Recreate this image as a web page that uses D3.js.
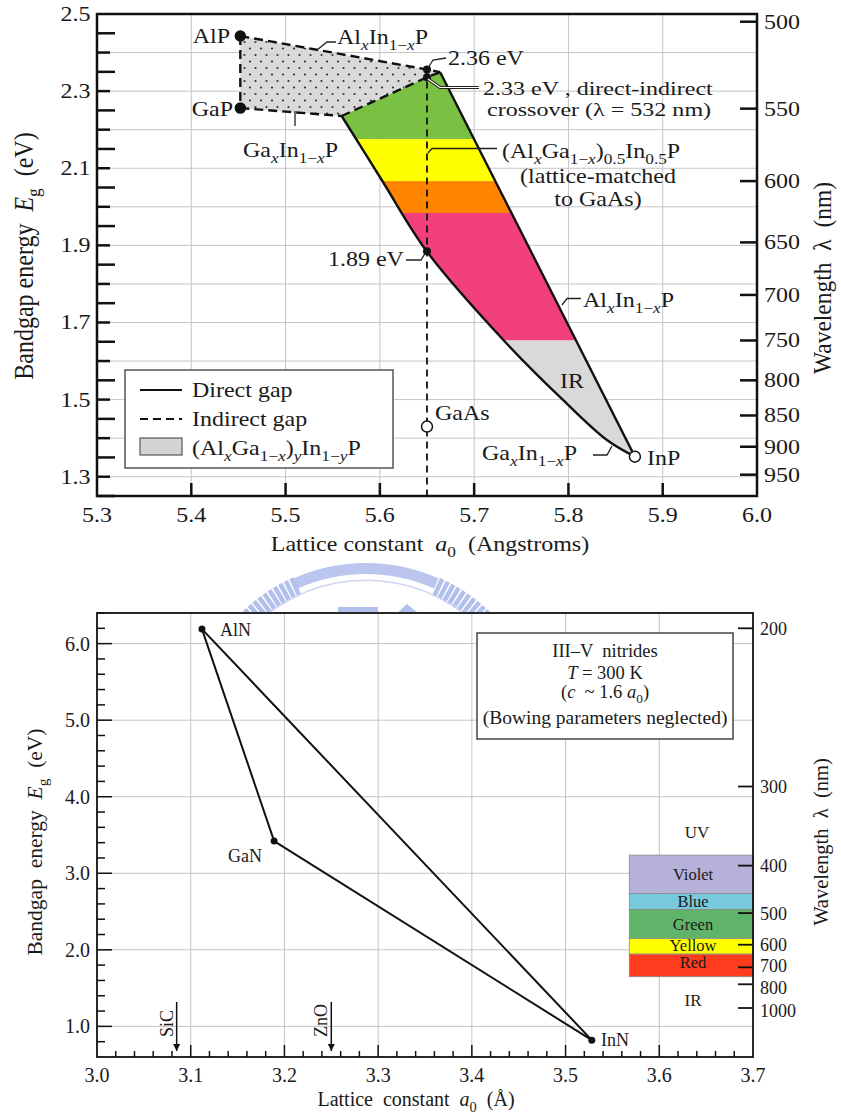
<!DOCTYPE html>
<html>
<head>
<meta charset="utf-8">
<script src="https://cdn.jsdelivr.net/npm/d3@7"></script>
<style>
	body { margin: 0; background: #fff; }
	svg { display: block; }
	text { font-family: "Liberation Serif", "Times New Roman", serif; fill: #1a1a1a; white-space: pre; }
</style>
</head>
<body>
<script>
// ---- top chart: (AlGa)InP ----
var top_lattice_ticks = [5.3, 5.4, 5.5, 5.6, 5.7, 5.8, 5.9, 6.0];
var top_energy_labels = [1.3, 1.5, 1.7, 1.9, 2.1, 2.3, 2.5];
var top_wavelength_ticks = [500, 550, 600, 650, 700, 750, 800, 850, 900, 950];

var phosphides = [
	{name: "AlP", a: 5.452, eg: 2.443, open: false},
	{name: "GaP", a: 5.452, eg: 2.256, open: false},
	{name: "InP", a: 5.8705, eg: 1.352, open: true},
	{name: "GaAs", a: 5.65, eg: 1.43, open: true}
];
var gaas_points = [[5.65, 2.356], [5.65, 2.336], [5.65, 1.885]];
var alinp_indirect = [[5.452, 2.443], [5.65, 2.356], [5.664, 2.349]];
var gainp_indirect = [[5.452, 2.256], [5.5595, 2.2355]];
var crossover_edge = [[5.5595, 2.2355], [5.65, 2.336], [5.664, 2.349]];
var alinp_direct = [[5.664, 2.349], [5.8705, 1.352]];
var gainp_direct = [[5.5595, 2.2355], [5.602, 2.0695], [5.6496, 1.885], [5.731, 1.6546], [5.7942, 1.499], [5.8408, 1.3952], [5.8705, 1.352]];
var band_edges_nm = [500, 570, 600, 625, 750, 1000];
var band_colors = ["#7ac143", "#ffff00", "#ff8400", "#f2407c", "#d9d9d9"];

// ---- bottom chart: nitrides ----
var bot_lattice_ticks = [3.0, 3.1, 3.2, 3.3, 3.4, 3.5, 3.6, 3.7];
var bot_energy_ticks = [1.0, 2.0, 3.0, 4.0, 5.0, 6.0];
var bot_wavelength_ticks = [200, 300, 400, 500, 600, 700, 800, 1000];
var nitrides = [
	{name: "AlN", a: 3.112, eg: 6.19},
	{name: "GaN", a: 3.189, eg: 3.42},
	{name: "InN", a: 3.528, eg: 0.82}
];
var nitride_links = [["AlN", "GaN"], ["GaN", "InN"], ["AlN", "InN"]];
var substrates = [{name: "SiC", a: 3.085}, {name: "ZnO", a: 3.25}];
var spectrum_names = ["Violet", "Blue", "Green", "Yellow", "Red"];
var spectrum_edges_nm = [383, 453, 491, 577, 638, 752];
var spectrum_colors = ["#b6b1d9", "#78c9dc", "#60b46a", "#ffff00", "#ff3c1e"];
var spectrum_left = 3.568;

var W = 841, H = 1115;
var svg = d3.select("body").append("svg").attr("width", W).attr("height", H);
var defs = svg.append("defs");

// text with italic / subscript pieces; sx stretches glyphs sideways
function rich(g, x, y, parts, o) {
	o = o || {};
	var fs = o.fs || 20, sx = o.sx || 1;
	var tr = "translate(" + x + "," + y + ")";
	if (o.rot) tr += " rotate(" + o.rot + ") scale(1," + sx + ")";
	else tr += " scale(" + sx + ",1)";
	var t = g.append("text").attr("transform", tr)
		.attr("xml:space", "preserve")
		.attr("text-anchor", o.anchor || "start")
		.attr("font-size", fs);
	var shift = 0;
	(typeof parts == "string" ? [[parts]] : parts).forEach(function(p) {
		var st = p[1] || "";
		var sub = st.indexOf("s") >= 0;
		var target = sub ? fs * 0.28 : 0;
		var ts = t.append("tspan").text(p[0]);
		if (target - shift) ts.attr("dy", target - shift);
		shift = target;
		if (sub) ts.attr("font-size", fs * 0.72);
		if (st.indexOf("i") >= 0) ts.attr("font-style", "italic");
	});
	return t;
}

function leader(g, pts, white) {
	var p = "M" + pts.map(function(d) { return d.join(","); }).join("L");
	if (white) {
		g.append("path").attr("d", p).attr("fill", "none").attr("stroke", "#222").attr("stroke-width", 3.2);
		g.append("path").attr("d", p).attr("fill", "none").attr("stroke", "#fff").attr("stroke-width", 1.2);
	} else {
		g.append("path").attr("d", p).attr("fill", "none").attr("stroke", "#222").attr("stroke-width", 1.3);
	}
}

// ---------------- watermark ----------------
defs.append("clipPath").attr("id", "wmclip").append("rect").attr("x", 0).attr("y", 540).attr("width", W).attr("height", 72);
var wm = svg.append("g").attr("clip-path", "url(#wmclip)").attr("opacity", 0.8);
var wcx = 366, wcy = 741;
wm.append("path").attr("transform", "translate(" + wcx + "," + wcy + ")")
	.attr("d", d3.arc()({innerRadius: 167, outerRadius: 178, startAngle: -0.42, endAngle: 0.42}))
	.attr("fill", "#a9b8ea");
wm.selectAll("line.bar").data(d3.range(-0.78, -0.42, 0.035).concat(d3.range(0.44, 0.8, 0.035))).join("line")
	.attr("x1", function(d) { return wcx + 160 * Math.sin(d); })
	.attr("y1", function(d) { return wcy - 160 * Math.cos(d); })
	.attr("x2", function(d) { return wcx + 179 * Math.sin(d); })
	.attr("y2", function(d) { return wcy - 179 * Math.cos(d); })
	.attr("stroke", "#a0b1e8").attr("stroke-width", 4.5);
wm.append("path").attr("transform", "translate(" + wcx + "," + wcy + ")")
	.attr("d", d3.arc()({innerRadius: 160, outerRadius: 161.5, startAngle: -0.75, endAngle: 0.75}))
	.attr("fill", "#c3cdf0");
wm.append("rect").attr("x", 338).attr("y", 607).attr("width", 40).attr("height", 7).attr("fill", "#a0b1e8");
wm.append("path").attr("d", "M397,613L407,604L418,613Z").attr("fill", "#a0b1e8");

// ---------------- top chart ----------------
var T = {l: 97, r: 757, t: 14, b: 496};
var xT = d3.scaleLinear().domain([5.3, 6.0]).range([T.l, T.r]);
var yT = d3.scaleLinear().domain([1.25, 2.5]).range([T.b, T.t]);
var gt = svg.append("g");
var SX = 1.2;

gt.append("rect").attr("x", T.l).attr("y", T.t).attr("width", T.r - T.l).attr("height", T.b - T.t).attr("fill", "#fff");

// grid
gt.append("g").selectAll("line").data(top_lattice_ticks.slice(1, -1)).join("line")
	.attr("x1", function(d) { return xT(d); }).attr("x2", function(d) { return xT(d); })
	.attr("y1", T.t).attr("y2", T.b).attr("stroke", "#c4c4c4").attr("stroke-width", 1);
gt.append("g").selectAll("line").data(d3.range(13, 25).map(function(d) { return d / 10; })).join("line")
	.attr("y1", function(d) { return yT(d); }).attr("y2", function(d) { return yT(d); })
	.attr("x1", T.l).attr("x2", T.r).attr("stroke", "#c4c4c4").attr("stroke-width", 1);

// dotted pattern for indirect region
var pat = defs.append("pattern").attr("id", "dots").attr("patternUnits", "userSpaceOnUse")
	.attr("width", 11).attr("height", 13);
pat.append("rect").attr("width", 11).attr("height", 13).attr("fill", "#d9d9d9");
pat.append("circle").attr("cx", 2.5).attr("cy", 3).attr("r", 1.1).attr("fill", "#333");
pat.append("circle").attr("cx", 8).attr("cy", 9.5).attr("r", 1.1).attr("fill", "#333");

var lineT = d3.line().x(function(d) { return xT(d[0]); }).y(function(d) { return yT(d[1]); });
var curveT = d3.line().x(function(d) { return xT(d[0]); }).y(function(d) { return yT(d[1]); }).curve(d3.curveCatmullRom);

// direct-gap region outline for the colour bands
var regionPath = lineT(alinp_direct) +
	curveT(gainp_direct.slice().reverse()).replace(/^M/, "L") +
	lineT(crossover_edge).replace(/^M/, "L") + "Z";
defs.append("clipPath").attr("id", "direct").append("path").attr("d", regionPath);

gt.append("g").attr("clip-path", "url(#direct)").selectAll("rect").data(band_colors).join("rect")
	.attr("x", xT(5.5)).attr("width", xT(5.95) - xT(5.5))
	.attr("y", function(d, i) { return yT(1240 / band_edges_nm[i]); })
	.attr("height", function(d, i) { return yT(1240 / band_edges_nm[i + 1]) - yT(1240 / band_edges_nm[i]); })
	.attr("fill", function(d) { return d; });

// indirect region
var indirectPoly = alinp_indirect.concat(crossover_edge.slice(0, -1).reverse(), gainp_indirect.slice().reverse());
gt.append("path").attr("d", lineT(indirectPoly) + "Z").attr("fill", "url(#dots)");

// boundaries
var dash = "9,5";
[alinp_indirect, gainp_indirect, crossover_edge, [[phosphides[0].a, phosphides[0].eg], [phosphides[1].a, phosphides[1].eg]]].forEach(function(d) {
	gt.append("path").attr("d", lineT(d)).attr("fill", "none").attr("stroke", "#111")
		.attr("stroke-width", 2.4).attr("stroke-dasharray", dash);
});
gt.append("path").attr("d", lineT(alinp_direct)).attr("fill", "none").attr("stroke", "#111").attr("stroke-width", 2.4);
gt.append("path").attr("d", curveT(gainp_direct)).attr("fill", "none").attr("stroke", "#111").attr("stroke-width", 2.4);

// lattice-matched to GaAs
gt.append("line").attr("x1", xT(5.65)).attr("x2", xT(5.65)).attr("y1", yT(gaas_points[0][1])).attr("y2", T.b)
	.attr("stroke", "#111").attr("stroke-width", 1.8).attr("stroke-dasharray", "7,5");

gt.selectAll("circle.gp").data(gaas_points).join("circle")
	.attr("cx", function(d) { return xT(d[0]); }).attr("cy", function(d) { return yT(d[1]); })
	.attr("r", 4).attr("fill", "#111");
gt.selectAll("circle.bin").data(phosphides).join("circle")
	.attr("cx", function(d) { return xT(d.a); }).attr("cy", function(d) { return yT(d.eg); })
	.attr("r", function(d) { return d.open ? 5.5 : 5; })
	.attr("fill", function(d) { return d.open ? "#fff" : "#111"; })
	.attr("stroke", "#111").attr("stroke-width", 1.5);

// frame and ticks
gt.append("rect").attr("x", T.l).attr("y", T.t).attr("width", T.r - T.l).attr("height", T.b - T.t)
	.attr("fill", "none").attr("stroke", "#111").attr("stroke-width", 2.5);
gt.append("g").selectAll("line").data(d3.range(25, 50).map(function(d) { return d / 20; })).join("line")
	.attr("x1", T.l).attr("x2", function(d, i) { return T.l + (i % 2 ? 13 : 18); })
	.attr("y1", function(d) { return yT(d); }).attr("y2", function(d) { return yT(d); })
	.attr("stroke", "#111").attr("stroke-width", 2.5);
gt.append("g").selectAll("line").data(top_lattice_ticks.slice(1, -1)).join("line")
	.attr("x1", function(d) { return xT(d); }).attr("x2", function(d) { return xT(d); })
	.attr("y1", T.b).attr("y2", T.b - 13).attr("stroke", "#111").attr("stroke-width", 2.5);
gt.append("g").selectAll("line").data(top_wavelength_ticks).join("line")
	.attr("x1", T.r - 17).attr("x2", T.r)
	.attr("y1", function(d) { return yT(1240 / d); }).attr("y2", function(d) { return yT(1240 / d); })
	.attr("stroke", "#111").attr("stroke-width", 2.5);

top_energy_labels.forEach(function(d) { rich(gt, 90.5, yT(d) + 7, d3.format(".1f")(d), {anchor: "end", sx: SX}); });
top_lattice_ticks.forEach(function(d) { rich(gt, xT(d), 522, d3.format(".1f")(d), {anchor: "middle", sx: SX}); });
top_wavelength_ticks.forEach(function(d) { rich(gt, 764, yT(1240 / d) + 7, String(d), {sx: SX}); });

rich(gt, 430, 551, [["Lattice constant  "], ["a", "i"], ["0", "s"], ["  (Angstroms)"]], {anchor: "middle", sx: SX, fs: 20});
rich(gt, 33, 256, [["Bandgap energy  "], ["E", "i"], ["g", "s"], ["  (eV)"]], {anchor: "middle", sx: 1.1, rot: -90, fs: 24});
rich(gt, 831, 278, [["Wavelength  λ  (nm)"]], {anchor: "middle", sx: 1.1, rot: -90, fs: 23.5});

// annotations
rich(gt, 230, 43, "AlP", {anchor: "end", sx: SX});
rich(gt, 233, 116, "GaP", {anchor: "end", sx: SX});
rich(gt, 337, 44, [["Al"], ["x", "si"], ["In"], ["1−", "s"], ["x", "si"], ["P"]], {sx: SX});
leader(gt, [[317, 50], [327, 42], [336, 42]]);
rich(gt, 448, 65, "2.36 eV", {sx: SX});
leader(gt, [[428, 68], [433, 60], [446, 58]]);
rich(gt, 483, 95, "2.33 eV , direct-indirect", {sx: 1.3, fs: 18.5});
rich(gt, 487, 116, "crossover (λ = 532 nm)", {sx: 1.3, fs: 18.5});
leader(gt, [[428, 79], [440, 87.5], [479, 87.5]], true);
rich(gt, 502, 158, [["(Al"], ["x", "si"], ["Ga"], ["1−", "s"], ["x", "si"], [")"], ["0.5", "s"], ["In"], ["0.5", "s"], ["P"]], {sx: SX});
leader(gt, [[428, 153], [432, 148.5], [497, 148.5]]);
rich(gt, 598, 183, "(lattice-matched", {anchor: "middle", sx: SX});
rich(gt, 598, 206, "to GaAs)", {anchor: "middle", sx: SX});
rich(gt, 328, 266, "1.89 eV", {sx: SX});
leader(gt, [[406, 260], [421, 260], [426, 252]]);
rich(gt, 243, 157, [["Ga"], ["x", "si"], ["In"], ["1−", "s"], ["x", "si"], ["P"]], {sx: SX});
leader(gt, [[295, 111], [295, 126]]);
rich(gt, 583, 307, [["Al"], ["x", "si"], ["In"], ["1−", "s"], ["x", "si"], ["P"]], {sx: SX});
leader(gt, [[562, 305], [567, 298.5], [581, 298.5]]);
rich(gt, 572, 388, "IR", {anchor: "middle", sx: SX});
rich(gt, 435, 420, "GaAs", {sx: SX});
rich(gt, 482, 460, [["Ga"], ["x", "si"], ["In"], ["1−", "s"], ["x", "si"], ["P"]], {sx: SX});
leader(gt, [[593, 455], [607, 455], [612, 446]]);
rich(gt, 647, 465, "InP", {sx: SX});

// legend
var lg = gt.append("g");
lg.append("rect").attr("x", 125).attr("y", 370).attr("width", 268).attr("height", 98)
	.attr("fill", "#fff").attr("stroke", "#555").attr("stroke-width", 1.5);
lg.append("line").attr("x1", 140).attr("x2", 182).attr("y1", 390).attr("y2", 390).attr("stroke", "#111").attr("stroke-width", 2.2);
lg.append("line").attr("x1", 140).attr("x2", 182).attr("y1", 419).attr("y2", 419).attr("stroke", "#111").attr("stroke-width", 2.2).attr("stroke-dasharray", "8,5");
lg.append("rect").attr("x", 140).attr("y", 438).attr("width", 42).attr("height", 17).attr("fill", "#d4d4d4").attr("stroke", "#555").attr("stroke-width", 1.2);
rich(lg, 192, 397, "Direct gap", {sx: SX});
rich(lg, 192, 426, "Indirect gap", {sx: SX});
rich(lg, 192, 455, [["(Al"], ["x", "si"], ["Ga"], ["1−", "s"], ["x", "si"], [")"], ["y", "si"], ["In"], ["1−", "s"], ["y", "si"], ["P"]], {sx: SX});

// ---------------- bottom chart ----------------
var B = {l: 97, r: 753, t: 613, b: 1057};
var xB = d3.scaleLinear().domain([3.0, 3.7]).range([B.l, B.r]);
var yB = d3.scaleLinear().domain([0.6, 6.4]).range([B.b, B.t]);
var gb = svg.append("g");

gb.append("rect").attr("x", B.l).attr("y", B.t).attr("width", B.r - B.l).attr("height", B.b - B.t).attr("fill", "#fff");
gb.append("g").selectAll("line").data(bot_lattice_ticks.slice(1, -1)).join("line")
	.attr("x1", function(d) { return xB(d); }).attr("x2", function(d) { return xB(d); })
	.attr("y1", B.t).attr("y2", B.b).attr("stroke", "#c4c4c4").attr("stroke-width", 1);
gb.append("g").selectAll("line").data(bot_energy_ticks).join("line")
	.attr("y1", function(d) { return yB(d); }).attr("y2", function(d) { return yB(d); })
	.attr("x1", B.l).attr("x2", B.r).attr("stroke", "#c4c4c4").attr("stroke-width", 1);

// spectrum bands
gb.selectAll("rect.band").data(spectrum_colors).join("rect")
	.attr("x", xB(spectrum_left)).attr("width", B.r - xB(spectrum_left))
	.attr("y", function(d, i) { return yB(1240 / spectrum_edges_nm[i]); })
	.attr("height", function(d, i) { return yB(1240 / spectrum_edges_nm[i + 1]) - yB(1240 / spectrum_edges_nm[i]); })
	.attr("fill", function(d) { return d; }).attr("stroke", "#888").attr("stroke-width", 0.8);
var band_baselines = [6, 6, 6, 5, 4];
spectrum_names.forEach(function(n, i) {
	var yt = yB(1240 / spectrum_edges_nm[i]), yb = yB(1240 / spectrum_edges_nm[i + 1]);
	rich(gb, 693, n == "Red" ? yt + 14 : (yt + yb) / 2 + band_baselines[i], n, {anchor: "middle", fs: 16.5});
});
rich(gb, 697, 838, "UV", {anchor: "middle", fs: 17});
rich(gb, 693, 1006, "IR", {anchor: "middle", fs: 17});

// info box
gb.append("rect").attr("x", 477).attr("y", 633).attr("width", 256).attr("height", 106)
	.attr("fill", "#fff").attr("stroke", "#444").attr("stroke-width", 1.5);
rich(gb, 605, 657, "III–V  nitrides", {anchor: "middle", fs: 18.5});
rich(gb, 605, 678.5, [["T", "i"], [" = 300 K"]], {anchor: "middle", fs: 18.5});
rich(gb, 605, 698, [["("], ["c", "i"], ["  ~ 1.6 "], ["a", "i"], ["0", "s"], [")"]], {anchor: "middle", fs: 18.5});
rich(gb, 605, 723.5, "(Bowing parameters neglected)", {anchor: "middle", fs: 19.5});

// alloy lines
var byName = {};
nitrides.forEach(function(d) { byName[d.name] = d; });
gb.selectAll("line.link").data(nitride_links).join("line")
	.attr("x1", function(d) { return xB(byName[d[0]].a); }).attr("y1", function(d) { return yB(byName[d[0]].eg); })
	.attr("x2", function(d) { return xB(byName[d[1]].a); }).attr("y2", function(d) { return yB(byName[d[1]].eg); })
	.attr("stroke", "#111").attr("stroke-width", 2);
gb.selectAll("circle.nit").data(nitrides).join("circle")
	.attr("cx", function(d) { return xB(d.a); }).attr("cy", function(d) { return yB(d.eg); })
	.attr("r", 3.5).attr("fill", "#111");
rich(gb, 220, 636, "AlN", {fs: 18});
rich(gb, 228, 862, "GaN", {fs: 18});
rich(gb, 601, 1046, "InN", {fs: 18});

// substrate arrows
defs.append("marker").attr("id", "arr").attr("viewBox", "0 0 10 10").attr("refX", 10).attr("refY", 5)
	.attr("markerWidth", 7).attr("markerHeight", 9).attr("markerUnits", "userSpaceOnUse").attr("orient", "auto")
	.append("path").attr("d", "M0,0L10,5L0,10Z").attr("fill", "#111");
substrates.forEach(function(s) {
	gb.append("line").attr("x1", xB(s.a)).attr("x2", xB(s.a)).attr("y1", B.b - 55).attr("y2", B.b - 6)
		.attr("stroke", "#111").attr("stroke-width", 1.5).attr("marker-end", "url(#arr)");
	rich(gb, xB(s.a) - 4, B.b - 20, s.name, {rot: -90, fs: 18});
});

// frame and ticks
gb.append("rect").attr("x", B.l).attr("y", B.t).attr("width", B.r - B.l).attr("height", B.b - B.t)
	.attr("fill", "none").attr("stroke", "#111").attr("stroke-width", 1.8);
gb.append("g").selectAll("line").data(d3.range(4, 33).map(function(d) { return d / 5; })).join("line")
	.attr("x1", B.l).attr("x2", function(d) { return B.l + (Math.abs(d - Math.round(d)) < 0.01 ? 15 : 8); })
	.attr("y1", function(d) { return yB(d); }).attr("y2", function(d) { return yB(d); })
	.attr("stroke", "#111").attr("stroke-width", 1.5);
gb.append("g").selectAll("line").data(d3.range(1, 35).map(function(d) { return 3 + d / 50; })).join("line")
	.attr("x1", function(d) { return xB(d); }).attr("x2", function(d) { return xB(d); })
	.attr("y1", B.b).attr("y2", function(d, i) { return B.b - ((i + 1) % 5 ? 6 : 12); })
	.attr("stroke", "#111").attr("stroke-width", 1.5);
gb.append("g").selectAll("line").data(bot_wavelength_ticks).join("line")
	.attr("x1", B.r - 15).attr("x2", B.r)
	.attr("y1", function(d) { return yB(1240 / d); }).attr("y2", function(d) { return yB(1240 / d); })
	.attr("stroke", "#111").attr("stroke-width", 1.8);

bot_energy_ticks.forEach(function(d) { rich(gb, 90, yB(d) + 7, d3.format(".1f")(d), {anchor: "end"}); });
bot_lattice_ticks.forEach(function(d) { rich(gb, xB(d), 1082, d3.format(".1f")(d), {anchor: "middle"}); });
// the crowded long-wavelength labels sit a little off their ticks, as in the figure
var wl_nudge = {700: -2, 800: 3.5, 1000: 2};
bot_wavelength_ticks.forEach(function(d) { rich(gb, 760, yB(1240 / d) + 6.5 + (wl_nudge[d] || 0), String(d), {fs: 18}); });

rich(gb, 416, 1106, [["Lattice  constant  "], ["a", "i"], ["0", "s"], ["  (Å)"]], {anchor: "middle", fs: 20});
rich(gb, 42, 842, [["Bandgap  energy  "], ["E", "i"], ["g", "s"], ["  (eV)"]], {anchor: "middle", rot: -90, fs: 21.5});
rich(gb, 828, 842, "Wavelength  λ  (nm)", {anchor: "middle", rot: -90, fs: 20.5});
</script>
</body>
</html>
